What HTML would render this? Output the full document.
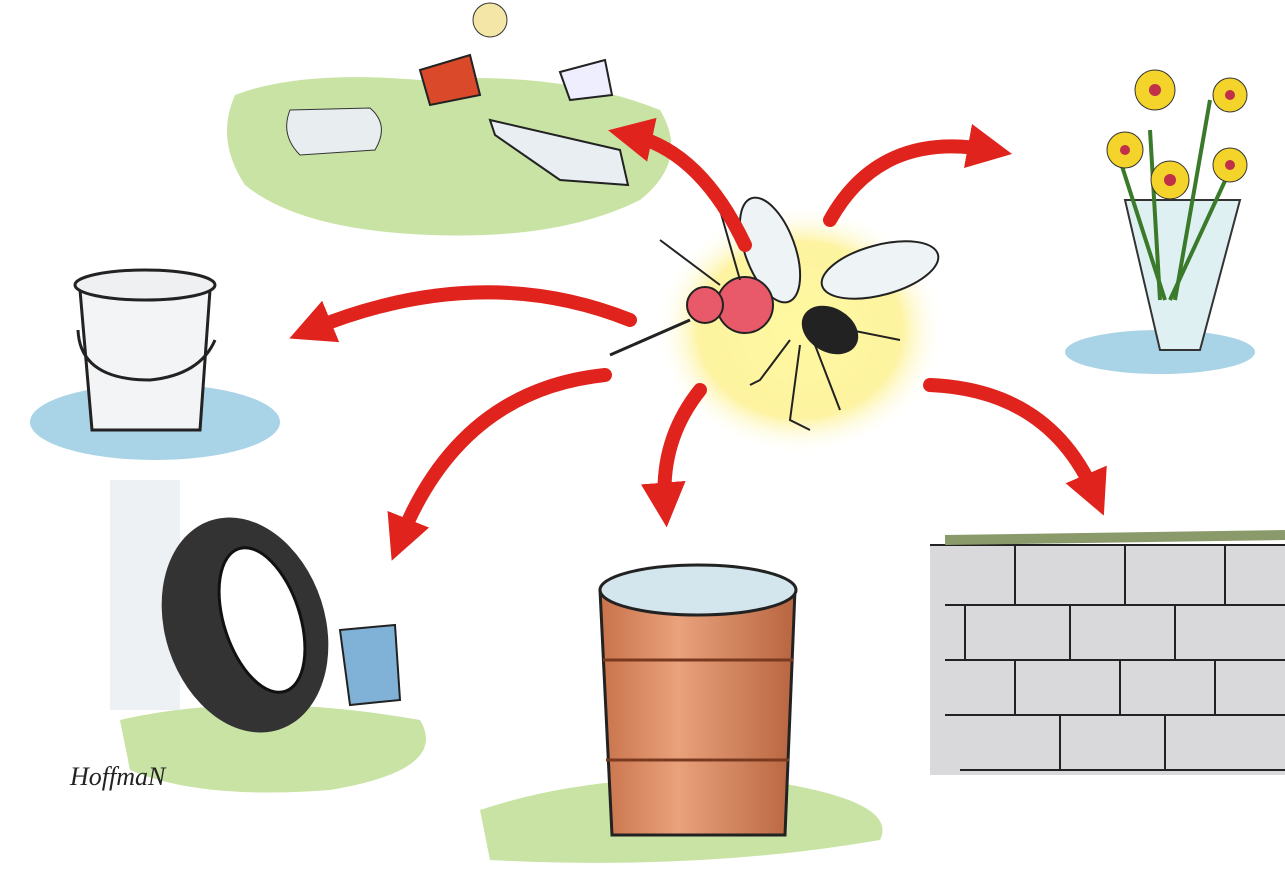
<!DOCTYPE html>
<html><head><meta charset="utf-8"><style>html,body{margin:0;padding:0;background:#fff}svg{display:block}</style></head>
<body>
<svg width="1285" height="871" viewBox="0 0 1285 871" xmlns="http://www.w3.org/2000/svg">
<defs>
<radialGradient id="glow" cx="0.5" cy="0.5" r="0.5"><stop offset="0" stop-color="#fff9a0"/><stop offset="0.7" stop-color="#fdf3a0"/><stop offset="1" stop-color="#fff" stop-opacity="0"/></radialGradient>
<linearGradient id="barrel" x1="0" x2="1"><stop offset="0" stop-color="#c8724a"/><stop offset="0.4" stop-color="#e9a27c"/><stop offset="1" stop-color="#b86540"/></linearGradient>
<marker id="ah" viewBox="0 0 10 10" refX="5" refY="5" markerWidth="3.2" markerHeight="3.2" orient="auto"><path d="M0,0 L10,5 L0,10 z" fill="#e0231d"/></marker>
</defs>
<rect width="1285" height="871" fill="#fff"/>
<!-- top grass patch -->
<path d="M235,95 Q300,70 420,80 Q560,70 660,110 Q690,160 640,200 Q560,240 430,235 Q300,230 245,185 Q215,140 235,95z" fill="#c8e3a3"/>
<path d="M290,110 L370,108 Q390,125 375,150 L300,155 Q280,135 290,110z" fill="#e8eef0" stroke="#333"/>
<path d="M420,70 L470,55 L480,95 L430,105z" fill="#d9492a" stroke="#222" stroke-width="2"/>
<circle cx="490" cy="20" r="17" fill="#f3e6a6" stroke="#333"/>
<path d="M560,72 L605,60 L612,95 L570,100z" fill="#eef" stroke="#222" stroke-width="2"/>
<path d="M490,120 L620,150 L628,185 L560,180 L495,135z" fill="#e9eef3" stroke="#222" stroke-width="2"/>
<!-- bucket -->
<ellipse cx="155" cy="422" rx="125" ry="38" fill="#a9d3e6"/>
<path d="M80,290 L210,290 L200,430 L92,430z" fill="#f2f4f5" stroke="#222" stroke-width="3"/>
<ellipse cx="145" cy="285" rx="70" ry="15" fill="#eef0f2" stroke="#222" stroke-width="3"/>
<path d="M78,330 Q80,380 150,380 Q200,375 215,340" fill="none" stroke="#222" stroke-width="3"/>
<!-- vase -->
<ellipse cx="1160" cy="352" rx="95" ry="22" fill="#a9d3e6"/>
<path d="M1125,200 L1240,200 L1200,350 L1160,350z" fill="#dff0f3" stroke="#333" stroke-width="2"/>
<g stroke="#3a7a2a" stroke-width="4" fill="none"><path d="M1160,300 L1150,130"/><path d="M1175,300 L1210,100"/><path d="M1170,300 L1230,170"/><path d="M1165,300 L1120,160"/></g>
<g fill="#f4d42a" stroke="#333"><circle cx="1155" cy="90" r="20"/><circle cx="1230" cy="95" r="17"/><circle cx="1125" cy="150" r="18"/><circle cx="1170" cy="180" r="19"/><circle cx="1230" cy="165" r="17"/></g>
<g fill="#c0304a"><circle cx="1155" cy="90" r="6"/><circle cx="1230" cy="95" r="5"/><circle cx="1125" cy="150" r="5"/><circle cx="1170" cy="180" r="6"/><circle cx="1230" cy="165" r="5"/></g>
<!-- mosquito -->
<ellipse cx="800" cy="330" rx="145" ry="125" fill="url(#glow)"/>
<ellipse cx="770" cy="250" rx="25" ry="55" fill="#eef3f6" stroke="#222" stroke-width="2" transform="rotate(-20 770 250)"/>
<ellipse cx="880" cy="270" rx="60" ry="25" fill="#eef3f6" stroke="#222" stroke-width="2" transform="rotate(-15 880 270)"/>
<ellipse cx="830" cy="330" rx="30" ry="22" fill="#222" transform="rotate(30 830 330)"/>
<circle cx="745" cy="305" r="28" fill="#e85a6a" stroke="#222" stroke-width="2"/>
<circle cx="705" cy="305" r="18" fill="#e85a6a" stroke="#222" stroke-width="2"/>
<line x1="690" y1="320" x2="610" y2="355" stroke="#222" stroke-width="3"/>
<g stroke="#222" stroke-width="2" fill="none"><path d="M790,340 L760,380 L750,385"/><path d="M800,345 L790,420 L810,430"/><path d="M815,345 L840,410"/><path d="M850,330 L900,340"/><path d="M720,285 L660,240"/><path d="M740,280 L720,210"/></g>
<!-- red arrows -->
<g fill="none" stroke="#e0231d" stroke-width="14" marker-end="url(#ah)" stroke-linecap="round">
<path d="M745,245 Q700,150 630,135"/>
<path d="M830,220 Q880,130 990,150"/>
<path d="M630,320 Q480,260 310,330"/>
<path d="M605,375 Q460,390 400,540"/>
<path d="M700,390 Q660,440 665,505"/>
<path d="M930,385 Q1050,390 1095,495"/>
</g>
<!-- tire area -->
<path d="M120,720 Q250,690 420,720 Q450,770 330,790 Q200,800 130,770z" fill="#c8e3a3"/>
<rect x="110" y="480" width="70" height="230" fill="#eef1f4"/>
<ellipse cx="245" cy="625" rx="80" ry="110" fill="#333" transform="rotate(-18 245 625)"/>
<ellipse cx="262" cy="620" rx="38" ry="75" fill="#fff" stroke="#111" stroke-width="3" transform="rotate(-18 262 620)"/>
<path d="M340,630 L395,625 L400,700 L350,705z" fill="#7fb2d6" stroke="#222" stroke-width="2"/>
<text x="70" y="785" font-family="Liberation Serif, serif" font-style="italic" font-size="26" fill="#222" transform="scale(1,1)">HoffmaN</text>
<!-- barrel -->
<path d="M480,810 Q600,770 760,780 Q900,800 880,840 Q700,871 490,860z" fill="#c8e3a3"/>
<path d="M600,590 L795,590 L785,835 L612,835z" fill="url(#barrel)" stroke="#222" stroke-width="3"/>
<ellipse cx="698" cy="590" rx="98" ry="25" fill="#d3e6ee" stroke="#222" stroke-width="3"/>
<g stroke="#7a3a20" stroke-width="3"><line x1="603" y1="660" x2="793" y2="660"/><line x1="606" y1="760" x2="789" y2="760"/></g>
<!-- wall -->
<rect x="930" y="545" width="355" height="230" fill="#d9d9db"/>
<g stroke="#222" stroke-width="2" fill="none">
<path d="M930,545 L1285,545"/><path d="M945,605 L1285,605"/><path d="M945,660 L1285,660"/><path d="M945,715 L1285,715"/><path d="M960,770 L1285,770"/>
<path d="M1015,545V605M1125,545V605M1225,545V605M965,605V660M1070,605V660M1175,605V660M1015,660V715M1120,660V715M1215,660V715M1060,715V770M1165,715V770"/>
</g>
<path d="M945,540 L1285,535" stroke="#8a9a6a" stroke-width="10"/>
</svg>
</body></html>
